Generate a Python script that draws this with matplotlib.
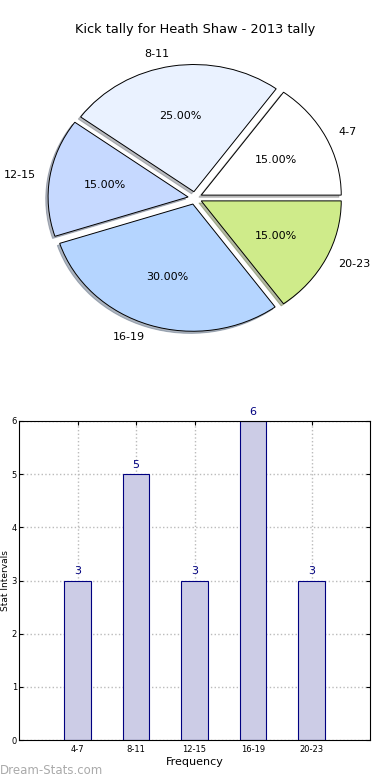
import matplotlib
matplotlib.use("Agg")
import matplotlib.pyplot as plt

categories = ["4-7", "8-11", "12-15", "16-19", "20-23"]
counts = [3, 5, 3, 6, 3]
pie_colors = ["#FFFFFF", "#EAF2FF", "#C6D9FF", "#B5D5FF", "#CFEB8A"]
title = "Kick tally for Heath Shaw - 2013 tally"

fig = plt.figure(figsize=(3.9, 7.8), dpi=100)

# Pie
axp = fig.add_axes([20/390, 1-357/780, 350/390, 318/780])
wedges, texts, autotexts = axp.pie(
    counts, labels=categories, colors=pie_colors, autopct="%1.2f%%",
    explode=[0.05]*len(counts), shadow=dict(ox=-0.012, oy=-0.012, shade=0.5),
    startangle=0,
    wedgeprops=dict(edgecolor="black", linewidth=0.7),
    textprops=dict(fontsize=8))
axp.set_aspect("auto")
axp.set_xlim(-1.25, 1.25)
axp.set_ylim(-1.25, 1.25)
fig.text(195/390, 1-30/780, title, ha="center", va="center", fontsize=9.3)

# Bar
axb = fig.add_axes([19/390, 1-740/780, 351/390, 319/780])
x = list(range(len(categories)))
bars = axb.bar(x, counts, width=0.45, color="#CCCCE6", edgecolor="#000080", linewidth=0.8, zorder=2)
for xi, c in zip(x, counts):
    axb.text(xi, c + 0.08, str(c), ha="center", va="bottom", fontsize=8, color="#000080")
axb.set_xlim(-1, 5)
axb.set_ylim(0, 6)
axb.set_xticks(x)
axb.set_xticklabels(categories, fontsize=6)
axb.set_yticks(range(0, 7))
axb.tick_params(axis="y", labelsize=6, pad=1.5)
axb.tick_params(direction="in", top=True, right=True, length=3)
axb.grid(True, linestyle=":", color="#BBBBBB", linewidth=1, zorder=0)
axb.set_axisbelow(True)
axb.set_xlabel("Frequency", fontsize=8, labelpad=2)
axb.set_ylabel("Stat Intervals", fontsize=6.5)
axb.yaxis.set_label_coords(-0.025, 0.5)

fig.text(0/390, 1-770/780, "Dream-Stats.com", ha="left", va="center", fontsize=8.5, color="#AAAAAA")

fig.savefig("out.png", dpi=100)
